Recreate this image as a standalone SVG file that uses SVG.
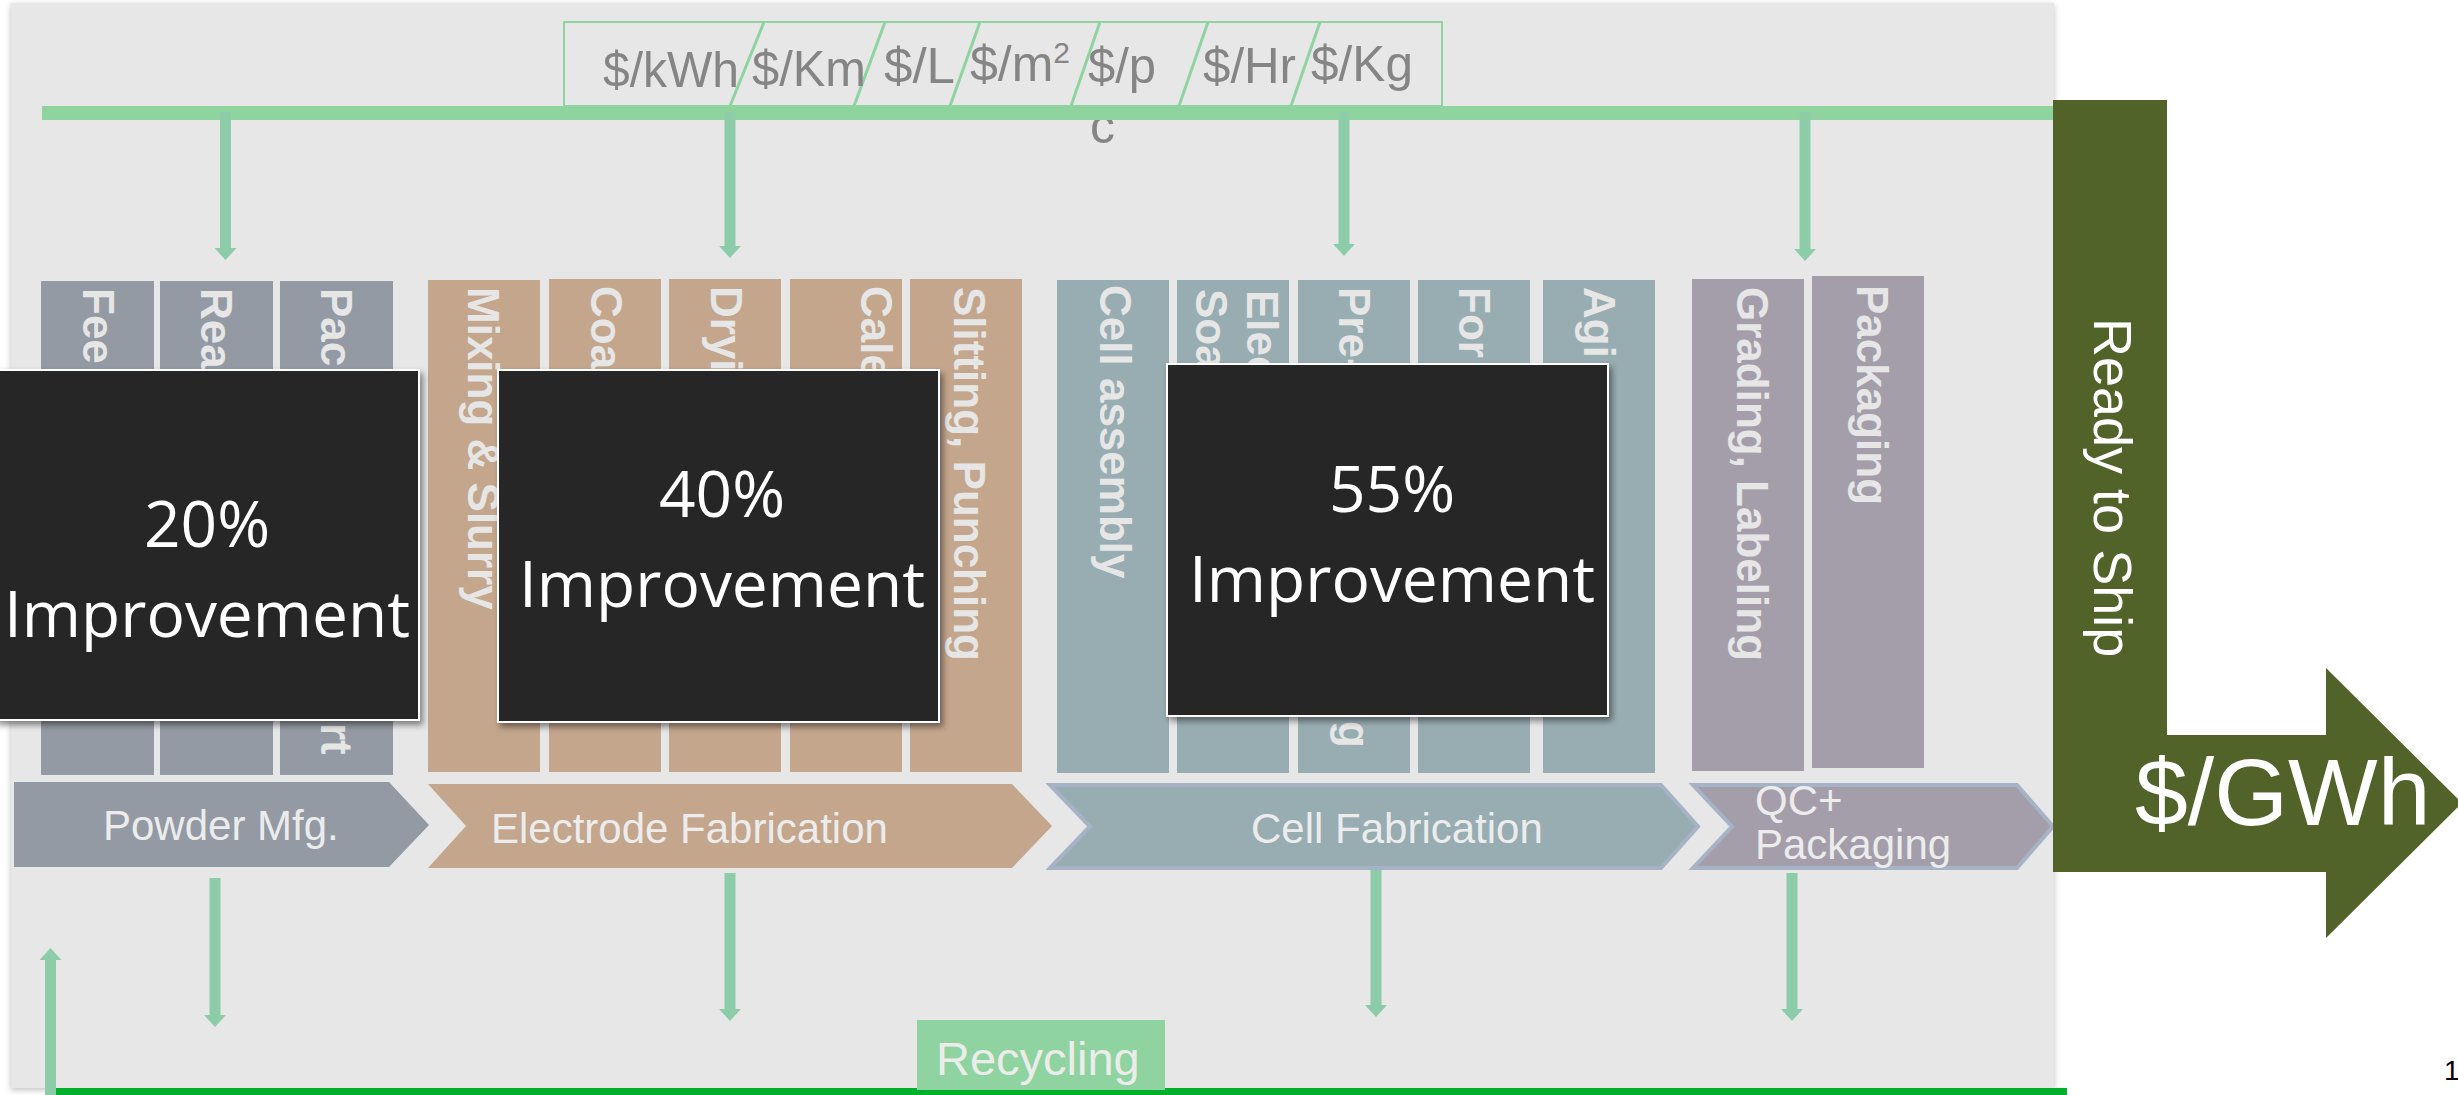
<svg xmlns="http://www.w3.org/2000/svg" width="2458" height="1095" viewBox="0 0 2458 1095">
<style>
.unit{font-family:"Liberation Sans",Arial,sans-serif;font-size:50px;fill:#858585}
.vt{font-family:"Liberation Sans",Arial,sans-serif;font-size:44px;font-weight:bold;fill:#e6e6e6}
.ch{font-family:"Liberation Sans",Arial,sans-serif;font-size:42px;fill:#ececec}
.imp{font-family:"Open Sans","Noto Sans",sans-serif;font-size:64px;fill:#ffffff;text-anchor:middle}
.ov{fill:#262626;stroke:#ffffff;stroke-width:2}
.arr{stroke:#8dcca8;stroke-width:11;fill:none}
.pw{fill:#939aa3}.el{fill:#c4a68d}.ce{fill:#98adb2}.qc{fill:#a49eab}
</style>
<defs>
<filter id="sh" x="-5%" y="-5%" width="115%" height="115%">
<feDropShadow dx="3" dy="4" stdDeviation="3" flood-color="#000" flood-opacity="0.45"/>
</filter>
<filter id="psh" x="-2%" y="-2%" width="104%" height="104%">
<feDropShadow dx="0" dy="2" stdDeviation="3" flood-color="#000" flood-opacity="0.25"/>
</filter>
<marker id="ah" markerUnits="userSpaceOnUse" markerWidth="12" markerHeight="22" viewBox="0 0 12 22" refX="0" refY="11" orient="auto">
<path d="M0,0 L12,11 L0,22 Z" fill="#8dcca8"/>
</marker>
</defs>

<rect x="0" y="0" width="2458" height="1095" fill="#ffffff"/>
<rect id="panel" x="11" y="3" width="2043" height="1085" fill="#e7e7e7" filter="url(#psh)"/>

<g id="units">
<rect x="564" y="22" width="878" height="84" fill="none" stroke="#8fd4a0" stroke-width="2"/>
<g stroke="#8fd4a0" stroke-width="3">
<line x1="764" y1="22" x2="730" y2="106"/>
<line x1="885" y1="22" x2="854" y2="106"/>
<line x1="980" y1="22" x2="950" y2="106"/>
<line x1="1100" y1="22" x2="1071" y2="106"/>
<line x1="1208" y1="22" x2="1179" y2="106"/>
<line x1="1320" y1="22" x2="1291" y2="106"/>
</g>
<text class="unit" x="603" y="87" textLength="136" lengthAdjust="spacingAndGlyphs">$/kWh</text>
<text class="unit" x="752" y="86" textLength="114" lengthAdjust="spacingAndGlyphs">$/Km</text>
<text class="unit" x="884" y="83" textLength="71" lengthAdjust="spacingAndGlyphs">$/L</text>
<text class="unit" x="970" y="81">$/m<tspan font-size="30" dy="-18">2</tspan></text>
<text class="unit" x="1088" y="83" textLength="68" lengthAdjust="spacingAndGlyphs">$/p</text>
<text class="unit" x="1090" y="143">c</text>
<text class="unit" x="1203" y="83" textLength="93" lengthAdjust="spacingAndGlyphs">$/Hr</text>
<text class="unit" x="1311" y="81" textLength="102" lengthAdjust="spacingAndGlyphs">$/Kg</text>
</g>

<g id="connectors">
<rect x="42" y="106" width="2011" height="14" fill="#8fd49f"/>
<line class="arr" x1="225.5" y1="112" x2="225.5" y2="248" marker-end="url(#ah)"/>
<line class="arr" x1="730" y1="112" x2="730" y2="246" marker-end="url(#ah)"/>
<line class="arr" x1="1344" y1="112" x2="1344" y2="244" marker-end="url(#ah)"/>
<line class="arr" x1="1805" y1="112" x2="1805" y2="249" marker-end="url(#ah)"/>
<rect x="45" y="1088" width="2022" height="7" fill="#00b02c"/>
<line class="arr" x1="215" y1="878" x2="215" y2="1015" marker-end="url(#ah)"/>
<line class="arr" x1="730" y1="873" x2="730" y2="1009" marker-end="url(#ah)"/>
<line class="arr" x1="1376" y1="868" x2="1376" y2="1005" marker-end="url(#ah)"/>
<line class="arr" x1="1792" y1="873" x2="1792" y2="1009" marker-end="url(#ah)"/>
<line class="arr" x1="50.5" y1="1095" x2="50.5" y2="960" marker-end="url(#ah)"/>
</g>

<g id="powder-steps">
<rect class="pw" x="41" y="281" width="113" height="494"/>
<rect class="pw" x="160" y="281" width="113" height="494"/>
<rect class="pw" x="280" y="281" width="113" height="494"/>
<text class="vt" transform="translate(83,288) rotate(90)">Fee</text>
<text class="vt" transform="translate(201,288) rotate(90)">Rea</text>
<text class="vt" transform="translate(321,288) rotate(90)">Pac</text>
<text class="vt" transform="translate(321,723) rotate(90)">rt</text>
</g>

<g id="electrode-steps">
<rect class="el" x="428" y="280" width="112" height="492"/>
<rect class="el" x="549" y="279" width="112" height="493"/>
<rect class="el" x="669" y="279" width="112" height="493"/>
<rect class="el" x="790" y="279" width="112" height="493"/>
<rect class="el" x="910" y="279" width="112" height="493"/>
<text class="vt" transform="translate(468,287) rotate(90)">Mixing &amp; Slurry</text>
<text class="vt" transform="translate(591,286) rotate(90)">Coa</text>
<text class="vt" transform="translate(711,286) rotate(90)">Dryi</text>
<text class="vt" transform="translate(861,286) rotate(90)">Cale</text>
<text class="vt" transform="translate(954,287) rotate(90)">Slitting, Punching</text>
</g>

<g id="cell-steps">
<rect class="ce" x="1057" y="280" width="112" height="493"/>
<rect class="ce" x="1177" y="280" width="112" height="493"/>
<rect class="ce" x="1298" y="280" width="112" height="493"/>
<rect class="ce" x="1418" y="280" width="112" height="493"/>
<rect class="ce" x="1543" y="280" width="112" height="493"/>
<text class="vt" transform="translate(1100,285) rotate(90)" font-size="45.5">Cell assembly</text>
<text class="vt" transform="translate(1247,290) rotate(90)">Elec</text>
<text class="vt" transform="translate(1196,289) rotate(90)">Soa</text>
<text class="vt" transform="translate(1339,287) rotate(90)">Pre-</text>
<text class="vt" transform="translate(1339,721) rotate(90)">g</text>
<text class="vt" transform="translate(1459,287) rotate(90)">For</text>
<text class="vt" transform="translate(1584,287) rotate(90)">Agi</text>
</g>

<g id="qc-steps">
<rect class="qc" x="1692" y="279" width="112" height="492"/>
<rect class="qc" x="1812" y="276" width="112" height="492"/>
<text class="vt" transform="translate(1737,287) rotate(90)" font-size="40">Grading, Labeling</text>
<text class="vt" transform="translate(1857,285) rotate(90)" font-size="41">Packaging</text>
</g>

<g id="stage-powder">
<path class="pw" d="M14,782 L389,782 L429,825 L389,867 L14,867 Z"/>
<text class="ch" x="103" y="840">Powder Mfg.</text>
</g>
<g id="stage-electrode">
<path class="el" d="M428,784 L1012,784 L1052,826 L1012,868 L428,868 L466,826 Z"/>
<text class="ch" x="491" y="843">Electrode Fabrication</text>
</g>
<g id="stage-cell">
<path class="ce" d="M1050,785 L1661,785 L1698,826.5 L1661,868 L1050,868 L1090,826.5 Z" stroke="#a6b3c6" stroke-width="4"/>
<text class="ch" x="1251" y="843">Cell Fabrication</text>
</g>
<g id="stage-qc">
<path class="qc" d="M1693,785 L2017,785 L2053,826.5 L2017,868 L1693,868 L1732,826.5 Z" stroke="#a6b3c6" stroke-width="4"/>
<text class="ch" x="1755" y="815" font-size="35">QC+</text>
<text class="ch" x="1755" y="859" font-size="36">Packaging</text>
</g>

<g id="recycling">
<rect x="917" y="1020" width="248" height="70" fill="#8fd4a0"/>
<text x="936" y="1075" font-family="'Liberation Sans',Arial,sans-serif" font-size="47" fill="#ececec">Recycling</text>
</g>

<g id="ready-to-ship">
<path d="M2053,100 L2167,100 L2167,735 L2326,735 L2326,668 L2462,803 L2326,938 L2326,872 L2053,872 Z" fill="#516329"/>
<text transform="translate(2094,318) rotate(90)" font-family="'Liberation Sans',Arial,sans-serif" font-size="54" fill="#ffffff">Ready to Ship</text>
<text x="2135" y="825" font-family="'Liberation Sans',Arial,sans-serif" font-size="95" fill="#ffffff">$/GWh</text>
</g>

<g id="improve-20">
<rect class="ov" x="-5" y="370" width="424" height="350" filter="url(#sh)"/>
<text class="imp" x="207" y="547">20%</text>
<text class="imp" x="207" y="637">Improvement</text>
</g>
<g id="improve-40">
<rect class="ov" x="498" y="370" width="441" height="352" filter="url(#sh)"/>
<text class="imp" x="722" y="517">40%</text>
<text class="imp" x="722" y="607">Improvement</text>
</g>
<g id="improve-55">
<rect class="ov" x="1167" y="364" width="441" height="352" filter="url(#sh)"/>
<text class="imp" x="1392" y="512">55%</text>
<text class="imp" x="1392" y="602">Improvement</text>
</g>

<text x="2444" y="1080" font-family="'Liberation Sans',Arial,sans-serif" font-size="28" fill="#000000">1</text>
</svg>
